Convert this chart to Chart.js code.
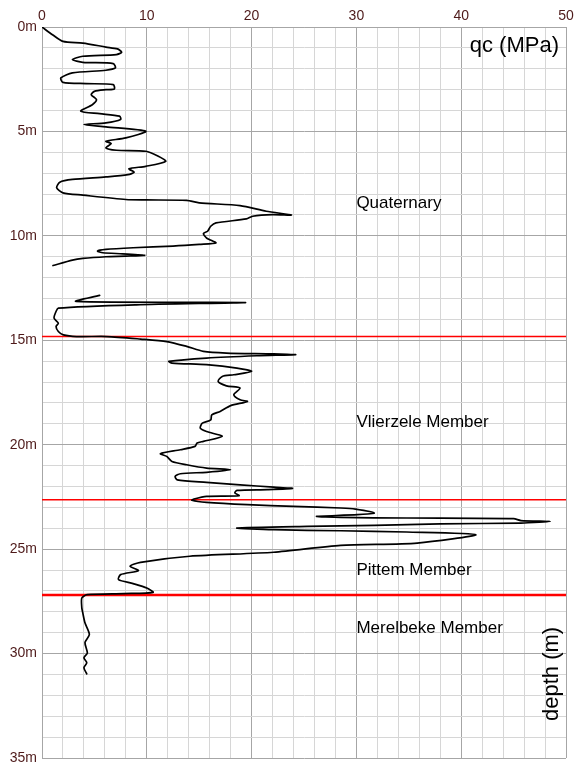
<!DOCTYPE html>
<html>
<head>
<meta charset="utf-8">
<script src="https://cdn.jsdelivr.net/npm/chart.js@4/dist/chart.umd.min.js"></script>
<style>
  html, body { margin: 0; padding: 0; background: #ffffff; }
  #wrap { width: 576px; height: 765px; }
</style>
</head>
<body>
<div id="wrap"><canvas id="cpt"></canvas></div>
<script>
// Cone resistance qc (MPa) against depth (m)
const depthUpper = [0, 0.37, 0.69, 0.77, 0.96, 1.05, 1.21, 1.32, 1.40, 1.56, 1.69, 1.75, 1.96, 2.07, 2.20, 2.44, 2.65, 2.71, 2.76, 2.97, 3.0, 3.08, 3.24, 3.48, 3.72, 4.03, 4.15, 4.27, 4.43, 4.59, 4.67, 4.78, 4.99, 5.31, 5.47, 5.58, 5.79, 5.90, 5.95, 6.19, 6.43, 6.67, 6.79, 6.95, 7.07, 7.18, 7.30, 7.43, 7.70, 7.94, 8.05, 8.26, 8.28, 8.30, 8.42, 8.55, 8.82, 9.00, 8.98, 9.06, 9.19, 9.38, 9.54, 9.78, 9.89, 10.10, 10.34, 10.41, 10.49, 10.57, 10.65, 10.73, 10.81, 10.86, 10.93, 10.97, 11.00, 11.08, 11.16, 11.42];
const qcUpper = [0, 1.0, 2.0, 3.9, 6.1, 7.2, 7.6, 7.1, 3.9, 2.9, 3.9, 6.8, 7.0, 6.1, 2.9, 1.8, 2.0, 4.2, 6.8, 6.9, 6.1, 5.0, 4.7, 5.2, 4.8, 3.7, 5.5, 7.4, 7.5, 6.1, 4.0, 6.1, 9.9, 8.0, 6.1, 6.6, 6.1, 7.1, 9.9, 11.1, 11.8, 9.9, 8.3, 8.8, 8.2, 6.1, 2.9, 1.7, 1.4, 2.0, 3.9, 8.0, 9.9, 13.8, 15.0, 18.9, 21.4, 23.8, 22.0, 20.1, 19.5, 16.6, 16.1, 15.8, 15.4, 15.7, 16.6, 15.0, 12.5, 8.7, 6.1, 5.3, 5.8, 7.7, 9.8, 8.0, 6.1, 3.9, 2.9, 1.05];

const depthLower = [12.85, 13.14, 13.19, 13.30, 13.46, 13.62, 13.94, 14.18, 14.34, 14.58, 14.74, 14.82, 14.82, 14.94, 15.06, 15.29, 15.53, 15.61, 15.65, 15.69, 15.74, 15.85, 16.01, 16.09, 16.17, 16.33, 16.49, 16.65, 16.73, 16.97, 17.18, 17.29, 17.61, 17.85, 17.93, 18.13, 18.41, 18.57, 18.81, 18.97, 19.21, 19.37, 19.60, 19.84, 19.92, 20.08, 20.24, 20.43, 20.56, 20.80, 20.96, 21.12, 21.20, 21.32, 21.39, 21.52, 21.68, 21.80, 21.92, 22.03, 22.09, 22.15, 22.19, 22.31, 22.44, 22.47, 22.60, 22.66, 22.76, 22.87, 22.95, 23.03, 23.08, 23.27, 23.35, 23.43, 23.48, 23.51, 23.54, 23.63, 23.67, 23.75, 23.79, 23.86, 23.91, 23.99, 24.07, 24.12, 24.18, 24.31, 24.71, 24.82, 25.15, 25.34, 25.63, 25.82, 26.03, 26.22, 26.46, 26.65, 26.86, 27.07, 27.13, 27.18, 27.34, 27.81, 28.05, 28.53, 29.09, 29.47, 29.97, 30.20, 30.44, 30.68, 30.97];
const qcLower = [5.5, 3.25, 19.4, 9.0, 1.56, 1.34, 1.15, 1.56, 1.34, 1.56, 2.04, 3.3, 6.2, 9.4, 11.9, 13.8, 15.4, 17.6, 22.1, 24.2, 20.5, 15.7, 12.1, 12.4, 15.7, 18.6, 20.0, 18.3, 17.2, 16.8, 17.6, 18.9, 18.3, 18.9, 19.6, 18.0, 17.0, 16.2, 16.1, 15.3, 15.1, 15.7, 17.2, 15.4, 14.8, 14.6, 13.2, 11.3, 11.9, 12.4, 13.8, 15.7, 18.0, 15.7, 13.2, 12.7, 12.9, 15.7, 18.9, 22.1, 23.9, 21.5, 18.6, 18.4, 18.8, 15.7, 14.5, 14.3, 15.7, 19.6, 24.0, 28.5, 29.9, 31.7, 30.1, 26.2, 28.5, 34.8, 45.0, 45.7, 48.5, 45.7, 38.0, 31.7, 25.3, 18.6, 22.1, 28.5, 34.8, 41.4, 35.8, 28.5, 22.1, 14.1, 9.4, 8.4, 9.2, 7.5, 7.3, 8.7, 10.0, 10.6, 7.8, 4.3, 3.8, 3.8, 3.89, 4.1, 4.52, 4.1, 4.33, 4.0, 4.27, 4.0, 4.27];

// Formation boundaries (m) and unit labels
const boundaryDepths = [14.82, 22.63, 27.2];
const boundaryWidths = [1.5, 1.5, 2.5];
const unitNames = ['Quaternary', 'Vlierzele Member', 'Pittem Member', 'Merelbeke Member'];
const unitLabelDepths = [8.42, 18.95, 26.03, 28.8];
const unitLabelQc = 30;

const toPoints = (d, q) => d.map((v, i) => ({ x: q[i], y: v }));

const datasets = [
  { data: toPoints(depthUpper, qcUpper), borderColor: '#000', borderWidth: 1.7, tension: 0.25 },
  { data: toPoints(depthLower, qcLower), borderColor: '#000', borderWidth: 1.7, tension: 0.25 }
];
boundaryDepths.forEach((d, i) => {
  datasets.push({ data: [{ x: 0, y: d }, { x: 50, y: d }], borderColor: '#ff0000', borderWidth: boundaryWidths[i], tension: 0 });
});

const tickColor = '#4e1a1a';
const fontFamily = '"Liberation Sans", Arial, sans-serif';

const annotate = {
  id: 'annotate',
  afterDatasetsDraw(chart) {
    const { ctx, scales: { x, y }, chartArea } = chart;
    ctx.save();
    ctx.fillStyle = '#000';
    ctx.textBaseline = 'middle';
    ctx.textAlign = 'left';
    ctx.font = '17px ' + fontFamily;
    unitNames.forEach((n, i) => ctx.fillText(n, x.getPixelForValue(unitLabelQc), y.getPixelForValue(unitLabelDepths[i])));
    ctx.font = '22px ' + fontFamily;
    ctx.textAlign = 'right';
    ctx.fillText('qc (MPa)', chartArea.right - 7, chartArea.top + 19);
    ctx.translate(chartArea.right - 8, chartArea.bottom - 37);
    ctx.rotate(-Math.PI / 2);
    ctx.textAlign = 'left';
    ctx.textBaseline = 'alphabetic';
    ctx.fillText('depth (m)', 0, 0);
    ctx.restore();
  }
};

new Chart(document.getElementById('cpt'), {
  type: 'scatter',
  data: { datasets },
  options: {
    responsive: true,
    maintainAspectRatio: false,
    animation: false,
    showLine: true,
    layout: { padding: { left: 0, right: 10, top: 0, bottom: 7 } },
    elements: { point: { radius: 0 }, line: { borderCapStyle: 'round', borderJoinStyle: 'round' } },
    plugins: { legend: { display: false }, tooltip: { enabled: false } },
    scales: {
      x: {
        type: 'linear', position: 'top', min: 0, max: 50,
        afterFit: s => { s.height = 27; s.paddingLeft = 0; s.paddingRight = 0; },
        ticks: {
          stepSize: 2, autoSkip: false, padding: 2, color: tickColor,
          maxRotation: 0, minRotation: 0,
          font: { family: fontFamily, size: 14 },
          callback: v => (v % 10 === 0 ? String(v) : '')
        },
        grid: {
          drawTicks: false,
          color: c => (c.tick && c.tick.value % 10 === 0 ? '#a6a6a6' : '#d6d6d6'),
          lineWidth: 1
        },
        border: { color: '#a6a6a6' }
      },
      y: {
        type: 'linear', reverse: true, min: 0, max: 35,
        afterFit: s => { s.width = 42; s.paddingTop = 0; s.paddingBottom = 0; },
        ticks: {
          stepSize: 1, autoSkip: false, padding: 5, color: tickColor,
          font: { family: fontFamily, size: 14 },
          callback: v => (v % 5 === 0 ? v + 'm' : '')
        },
        grid: {
          drawTicks: false,
          color: c => (c.tick && c.tick.value % 5 === 0 ? '#a6a6a6' : '#d6d6d6'),
          lineWidth: 1
        },
        border: { color: '#a6a6a6' }
      }
    }
  },
  plugins: [annotate]
});
</script>
</body>
</html>
